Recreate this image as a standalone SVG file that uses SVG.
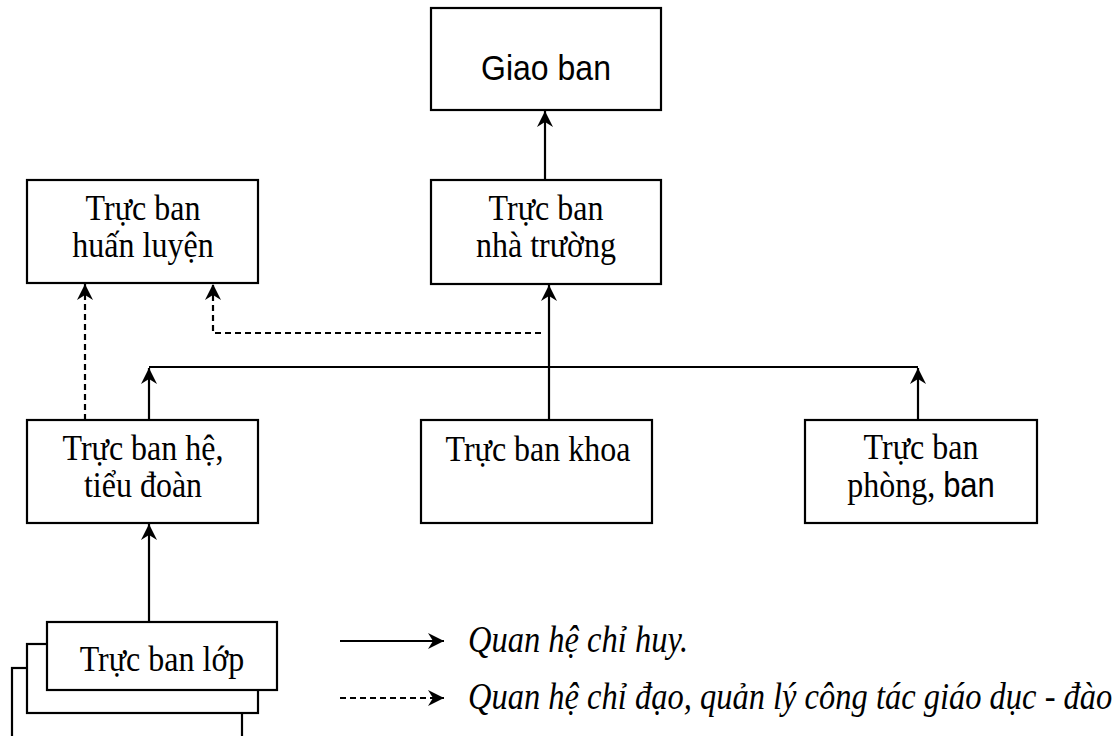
<svg xmlns="http://www.w3.org/2000/svg" width="1118" height="736" viewBox="0 0 1118 736">
<style>
.box{fill:#fff;stroke:#000;stroke-width:2.2}
.t{font-family:"Liberation Serif","Times New Roman",serif;font-size:32px;fill:#000;text-anchor:middle}
.a{font-family:"Liberation Sans",Arial,sans-serif}
.lg{font-family:"Liberation Serif","Times New Roman",serif;font-size:32.5px;font-style:italic;fill:#000}
.ln{fill:none;stroke:#000;stroke-width:2.2}
.ds{stroke-dasharray:6 4}
</style>
<defs>
<marker id="ah" viewBox="-18 -10 20 20" refX="0" refY="0" markerWidth="20" markerHeight="20" markerUnits="userSpaceOnUse" orient="auto">
<path d="M0,0 L-16,-8 L-11,0 L-16,8 Z" fill="#000"/>
</marker>
</defs>
<g id="connectors">
<path class="ln" d="M545,180 V111" marker-end="url(#ah)"/>
<path class="ln" d="M549,420 V285" marker-end="url(#ah)"/>
<path class="ln" d="M149,420 V368" marker-end="url(#ah)"/>
<path class="ln" d="M918,420 V368" marker-end="url(#ah)"/>
<path class="ln" d="M149,367 H918"/>
<path class="ln" d="M149,622 V524" marker-end="url(#ah)"/>
<path class="ln ds" d="M85,420 V284" marker-end="url(#ah)"/>
<path class="ln ds" d="M541,333 H213 V284" marker-end="url(#ah)"/>
</g>
<g id="giao-ban">
<rect class="box" x="431" y="8" width="230" height="102"/>
<text class="t a" font-size="31" transform="translate(546,80) scale(1,1.12)">Giao ban</text>
</g>
<g id="truc-ban-huan-luyen">
<rect class="box" x="27" y="180" width="231" height="103"/>
<text class="t" transform="translate(143,220) scale(1,1.12)">Trực ban</text>
<text class="t" transform="translate(143,257) scale(1,1.12)">huấn luyện</text>
</g>
<g id="truc-ban-nha-truong">
<rect class="box" x="431" y="180" width="230" height="104"/>
<text class="t" transform="translate(546,220) scale(1,1.12)">Trực ban</text>
<text class="t" transform="translate(546,257) scale(1,1.12)">nhà trường</text>
</g>
<g id="truc-ban-he">
<rect class="box" x="27" y="420" width="231" height="103"/>
<text class="t" transform="translate(143,460) scale(1,1.12)">Trực ban hệ,</text>
<text class="t" transform="translate(143,497) scale(1,1.12)">tiểu đoàn</text>
</g>
<g id="truc-ban-khoa">
<rect class="box" x="421" y="420" width="231" height="103"/>
<text class="t" transform="translate(538,461) scale(1,1.12)">Trực ban khoa</text>
</g>
<g id="truc-ban-phong">
<rect class="box" x="805" y="420" width="232" height="103"/>
<text class="t" transform="translate(921,459) scale(1,1.12)">Trực ban</text>
<text class="t" transform="translate(921,497) scale(1,1.12)">phòng, <tspan class="a" font-size="31">ban</tspan></text>
</g>
<g id="truc-ban-lop">
<rect class="box" x="12" y="668" width="230" height="80"/>
<rect class="box" x="27" y="644" width="231" height="69"/>
<rect class="box" x="47" y="622" width="230" height="68"/>
<text class="t" transform="translate(162,671) scale(1,1.12)">Trực ban lớp</text>
</g>
<g id="legend">
<path class="ln" d="M340,641 H444" marker-end="url(#ah)"/>
<path class="ln ds" d="M340,698 H444" marker-end="url(#ah)"/>
<text class="lg" transform="translate(468,652) scale(1,1.15)">Quan hệ chỉ huy.</text>
<text class="lg" transform="translate(468,709) scale(1,1.15)">Quan hệ chỉ đạo, quản lý công tác giáo dục - đào</text>
</g>
</svg>
